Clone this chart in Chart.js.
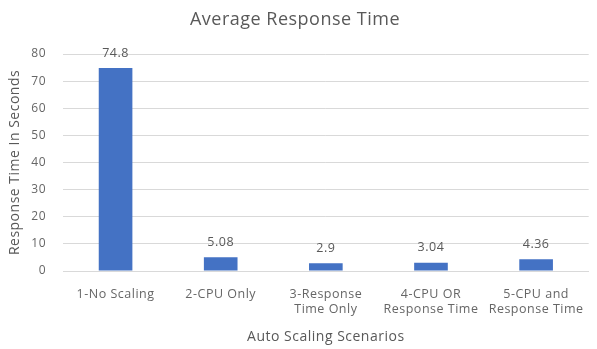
<!DOCTYPE html>
<html>
<head>
<meta charset="utf-8">
<script src="https://cdn.jsdelivr.net/npm/chart.js@4/dist/chart.umd.min.js"></script>
<style>
  html, body { margin: 0; padding: 0; background: #fff; }
  #wrap { width: 597px; height: 349px; }
</style>
</head>
<body>
<div id="wrap"><canvas id="c" width="597" height="349"></canvas></div>
<script>
// Scenario names (multi-line where the label wraps)
const scenarios = [
  ['1-No Scaling'],
  ['2-CPU Only'],
  ['3-Response', 'Time Only'],
  ['4-CPU OR', 'Response Time'],
  ['5-CPU and', 'Response Time']
];
// Average response time per scenario, in seconds
const avgResponse = [74.8, 5.08, 2.9, 3.04, 4.36];
// Value-axis range and step
const yMin = 0;
const yMax = 80;
const yStep = 10;

const GREY = '#595959';
const FONT = "'Open Sans', 'Noto Sans', sans-serif";

// Slightly looser letter spacing for all chart text
const spacing = {
  id: 'spacing',
  beforeDraw(chart) { chart.ctx.letterSpacing = '0.5px'; }
};

// Writes each bar's value just above it
const valueLabels = {
  id: 'valueLabels',
  afterDatasetsDraw(chart) {
    const ctx = chart.ctx;
    const meta = chart.getDatasetMeta(0);
    ctx.save();
    ctx.fillStyle = GREY;
    ctx.font = '12.5px ' + FONT;
    ctx.textAlign = 'center';
    ctx.textBaseline = 'middle';
    meta.data.forEach((bar, i) => {
      ctx.fillText(String(chart.data.datasets[0].data[i]), bar.x, bar.y - 15);
    });
    ctx.restore();
  }
};

new Chart(document.getElementById('c'), {
  type: 'bar',
  data: {
    labels: scenarios,
    datasets: [{
      label: 'Average Response Time',
      data: avgResponse,
      backgroundColor: '#4472C4',
      borderWidth: 0,
      categoryPercentage: 1,
      barPercentage: 0.32
    }]
  },
  options: {
    responsive: false,
    animation: false,
    devicePixelRatio: 1,
    layout: { padding: { left: 0, right: 7, top: 0, bottom: 0 } },
    plugins: {
      legend: { display: false },
      tooltip: { enabled: false },
      title: {
        display: true,
        text: 'Average Response Time',
        color: GREY,
        font: { family: FONT, size: 18, weight: 'normal' },
        padding: { top: 9, bottom: 23.4 }
      }
    },
    scales: {
      x: {
        grid: { display: false, drawTicks: false },
        border: { display: true, color: '#d9d9d9', width: 1 },
        ticks: {
          color: '#666666',
          font: { family: FONT, size: 12.5, lineHeight: 1.2 },
          padding: 16,
          maxRotation: 0,
          autoSkip: false
        },
        title: {
          display: true,
          text: 'Auto Scaling Scenarios',
          color: GREY,
          font: { family: FONT, size: 14 },
          padding: { top: 0, bottom: 4 }
        },
        afterFit(scale) { scale.height = 78; }
      },
      y: {
        min: yMin,
        max: yMax,
        grid: { color: '#d9d9d9', drawTicks: false },
        border: { display: false },
        ticks: {
          stepSize: yStep,
          color: '#666666',
          font: { family: FONT, size: 12 },
          padding: 17
        },
        title: {
          display: true,
          text: 'Response Time In Seconds',
          color: GREY,
          font: { family: FONT, size: 14 },
          padding: { top: 7, bottom: 0 }
        },
        afterFit(scale) { scale.width = 63; }
      }
    }
  },
  plugins: [spacing, valueLabels]
});
</script>
</body>
</html>
